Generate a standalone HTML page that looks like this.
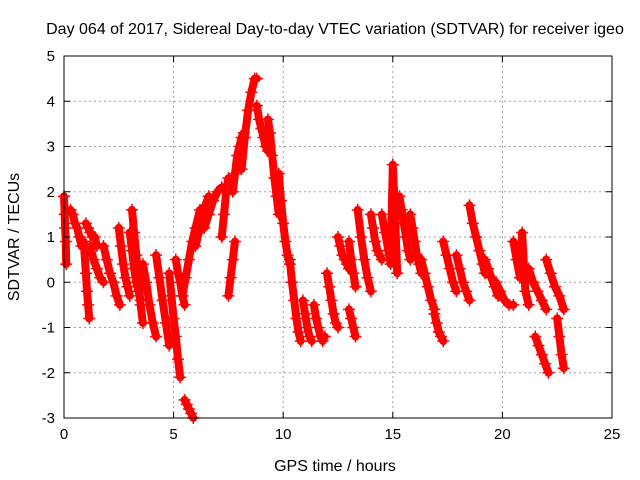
<!DOCTYPE html>
<html><head><meta charset="utf-8"><style>
body{margin:0;background:#fff;}
svg{display:block;font-family:"Liberation Sans",sans-serif;}
</style></head><body>
<svg id="chart" width="640" height="480">
<text x="335" y="34" text-anchor="middle" font-size="16">Day 064 of 2017, Sidereal Day-to-day VTEC variation (SDTVAR) for receiver igeo</text>
<text x="335" y="471" text-anchor="middle" font-size="16">GPS time / hours</text>
<text transform="translate(19,237) rotate(-90)" text-anchor="middle" font-size="16">SDTVAR / TECUs</text>
<g id="grid"></g><g id="marks"></g><g id="axes"></g>
</svg>
<script>
const xTicks=[0,5,10,15,20,25];
const yTicks=[-3,-2,-1,0,1,2,3,4,5];
// arcs: t (hours), v (TECU)
const arcT=[
[0,0.03,0.05,0.08,0.1],
[0.3,0.4,0.5,0.6,0.7,0.8],
[0.9,1.0,1.05,1.1,1.15],
[1.0,1.1,1.2,1.3,1.4,1.5],
[1.2,1.35,1.5,1.65,1.8],
[1.8,1.95,2.1,2.25,2.4,2.55],
[2.5,2.6,2.7,2.8,2.9,3.0],
[3.0,3.1,3.2,3.3,3.4,3.5],
[3.1,3.2,3.3,3.4,3.5,3.6],
[3.6,3.75,3.9,4.05,4.2],
[4.2,4.35,4.5,4.65,4.8],
[4.8,4.9,5.0,5.1,5.2,5.3],
[5.1,5.2,5.3,5.4,5.5],
[5.5,5.6,5.7,5.8,5.9],
[5.4,5.55,5.7,5.85,6.0,6.2],
[6.0,6.15,6.3,6.45,6.6],
[6.4,6.6,6.8,7.0,7.2],
[7.2,7.3,7.4,7.5],
[7.5,7.6,7.7,7.8],
[7.7,7.8,7.9,8.0,8.1,8.2],
[8.1,8.25,8.4,8.55,8.7,8.8],
[8.8,8.9,9.0,9.1,9.2,9.3],
[9.3,9.4,9.5,9.6,9.7,9.8],
[9.8,9.9,10.0,10.1,10.2,10.3],
[10.3,10.4,10.5,10.6,10.7,10.8],
[10.9,11.0,11.1,11.2,11.3],
[11.4,11.5,11.6,11.7,11.8,11.9],
[12.0,12.1,12.2,12.3,12.4,12.5],
[12.5,12.6,12.7,12.8,12.9,13.0],
[13.0,13.1,13.2,13.3],
[13.0,13.1,13.2,13.3],
[13.4,13.55,13.7,13.85,14.0],
[14.0,14.1,14.2,14.3,14.4,14.5],
[14.5,14.65,14.8,14.9,15.0,15.1,15.2],
[15.3,15.4,15.5,15.6,15.7,15.8],
[15.8,15.9,16.0,16.1,16.2,16.3],
[16.3,16.45,16.6,16.75,16.9],
[16.9,17.0,17.1,17.2,17.3],
[17.3,17.45,17.6,17.75,17.9],
[17.9,18.05,18.2,18.35,18.5],
[18.5,18.65,18.8,18.95,19.1,19.2],
[19.2,19.35,19.5,19.65,19.8],
[19.7,19.9,20.1,20.3,20.5],
[20.5,20.65,20.8,20.9,21.05,21.2],
[21.2,21.4,21.6,21.8,22.0],
[21.5,21.65,21.8,21.95,22.1],
[22.0,22.2,22.4,22.6,22.8],
[22.5,22.6,22.7,22.8]
];
const arcV=[
[1.9,1.5,1.2,0.9,0.4],
[1.6,1.5,1.3,1.2,1.0,0.8],
[0.9,0.2,-0.2,-0.5,-0.8],
[1.3,1.2,1.1,1.0,1.0,0.8],
[0.8,0.5,0.3,0.1,0.0],
[0.8,0.5,0.2,0.0,-0.3,-0.5],
[1.2,0.8,0.4,0.1,-0.1,-0.3],
[1.1,0.7,0.3,0.0,-0.2,-0.4],
[1.6,1.1,0.6,0.0,-0.5,-0.9],
[0.4,0.0,-0.5,-0.9,-1.2],
[0.6,0.1,-0.4,-0.9,-1.4],
[0.2,-0.3,-0.8,-1.2,-1.7,-2.1],
[0.5,0.2,0.0,-0.3,-0.5],
[-2.6,-2.7,-2.8,-2.9,-3.0],
[-0.3,0.1,0.5,0.9,1.2,1.6],
[0.8,1.1,1.4,1.7,1.9],
[1.2,1.5,1.8,2.0,2.1],
[1.0,1.5,2.0,2.3],
[-0.3,0.1,0.5,0.9],
[2.0,2.4,2.8,3.0,3.2,3.3],
[2.5,3.2,3.8,4.2,4.5,4.5],
[3.9,3.6,3.4,3.2,3.0,2.9],
[3.6,3.3,2.8,2.3,1.9,1.5],
[2.4,1.8,1.3,0.9,0.6,0.4],
[0.5,0.0,-0.4,-0.8,-1.1,-1.3],
[-0.4,-0.7,-1.0,-1.2,-1.3],
[-0.5,-0.8,-1.0,-1.2,-1.3,-1.2],
[0.2,-0.1,-0.4,-0.7,-0.9,-1.0],
[1.0,0.8,0.6,0.5,0.4,0.3],
[0.9,0.5,0.2,-0.1],
[-0.6,-0.8,-1.0,-1.2],
[1.6,1.0,0.5,0.1,-0.2],
[1.5,1.2,0.9,0.7,0.6,0.5],
[1.5,1.1,0.7,0.4,2.6,1.5,0.2],
[1.9,1.6,1.3,1.0,0.7,0.5],
[1.5,1.2,0.9,0.6,0.4,0.2],
[0.5,0.2,-0.1,-0.4,-0.6],
[-0.7,-0.9,-1.1,-1.2,-1.3],
[0.9,0.6,0.3,0.0,-0.2],
[0.6,0.3,0.0,-0.2,-0.4],
[1.7,1.3,1.0,0.7,0.4,0.2],
[0.5,0.3,0.1,-0.1,-0.3],
[0.0,-0.2,-0.4,-0.5,-0.5],
[0.9,0.5,0.1,1.1,-0.2,-0.5],
[0.3,0.0,-0.2,-0.4,-0.6],
[-1.2,-1.4,-1.6,-1.8,-2.0],
[0.5,0.2,-0.1,-0.3,-0.6],
[-0.8,-1.2,-1.6,-1.9]
];
const X0=64,X1=612,Y0=418,Y1=56,xMin=0,xMax=25,yMin=-3,yMax=5;
const xs=t=>X0+(t-xMin)/(xMax-xMin)*(X1-X0);
const ys=v=>Y0-(v-yMin)/(yMax-yMin)*(Y0-Y1);
const NS="http://www.w3.org/2000/svg";
function mk(tag,attrs,parent){const e=document.createElementNS(NS,tag);for(const k in attrs)e.setAttribute(k,attrs[k]);parent.appendChild(e);return e;}
const grid=document.getElementById('grid'),axes=document.getElementById('axes'),marks=document.getElementById('marks');
xTicks.forEach(t=>{
  const x=xs(t);
  if(t>xMin&&t<xMax){const g=mk('line',{x1:x,x2:x,y1:Y1,y2:Y0,stroke:'#a0a0a0','stroke-dasharray':'2,3'},grid);
  
  }
  mk('line',{x1:x,x2:x,y1:Y0,y2:Y0-6,stroke:'#000'},axes);
  mk('line',{x1:x,x2:x,y1:Y1,y2:Y1+6,stroke:'#000'},axes);
  const l=mk('text',{x:x,y:Y0+21,'text-anchor':'middle','font-size':'15'},axes);l.textContent=t;
  
  
});
yTicks.forEach(v=>{
  const y=ys(v);
  if(v>yMin&&v<yMax){const g=mk('line',{x1:X0,x2:X1,y1:y,y2:y,stroke:'#a0a0a0','stroke-dasharray':'2,3'},grid);
  
  }
  mk('line',{x1:X0,x2:X0+6,y1:y,y2:y,stroke:'#000'},axes);
  mk('line',{x1:X1,x2:X1-6,y1:y,y2:y,stroke:'#000'},axes);
  const l=mk('text',{x:X0-9,y:y+5,'text-anchor':'end','font-size':'15'},axes);l.textContent=v;
  
  
});
const frame=mk('rect',{x:X0,y:Y1,width:X1-X0,height:Y0-Y1,fill:'none',stroke:'#000'},axes);


arcT.forEach((ts,i)=>{
  const vs=arcV[i];
  const g=mk('g',{},marks);
  
  
  let d='';
  ts.forEach((t,j)=>{d+=(j?'L':'M')+xs(t).toFixed(1)+','+ys(vs[j]).toFixed(1);});
  mk('path',{d:d,stroke:'#f00','stroke-width':8,fill:'none','stroke-linejoin':'round','stroke-linecap':'round'},g);
  ts.forEach((t,j)=>{
    const x=xs(t),y=ys(vs[j]);
    const p=mk('path',{d:`M${x-6},${y}h12M${x},${y-6}v12`,stroke:'#f00','stroke-width':1.5},g);
    
    
  });
});
</script>
</body></html>
